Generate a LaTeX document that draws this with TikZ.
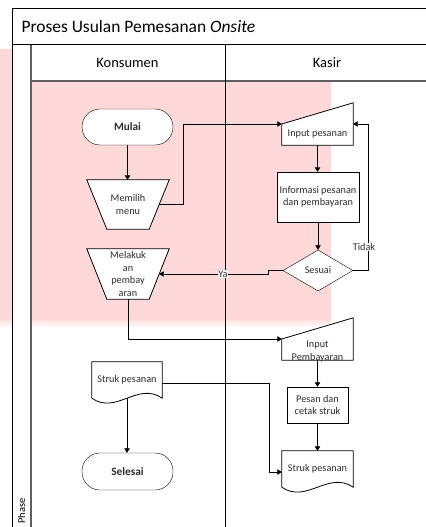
\documentclass[tikz,border=0pt]{standalone}
\usepackage{fontspec}
\setmainfont{Carlito}
\usetikzlibrary{arrows.meta,shapes.geometric,calc}
\pgfdeclarelayer{back}
\pgfdeclarelayer{shapes}
\pgfsetlayers{back,shapes,main}

\definecolor{wm}{RGB}{255,217,217}
\definecolor{lanegray}{RGB}{95,95,95}
\definecolor{ink}{RGB}{45,45,45}

\begin{document}
\begin{tikzpicture}[x=1bp,y=-1bp,
  line width=0.8bp,
  flow/.style={draw=black, line width=0.8bp, -{Triangle[width=5.5bp,length=4.5bp]}},
  txt/.style={font=\fontsize{10.3}{12.5}\selectfont, align=center, text=ink},
  term/.style={draw, fill=white, rounded corners=18bp, minimum width=91bp,
               minimum height=36bp, inner sep=0,
               font=\bfseries\fontsize{11.3}{13}\selectfont, text=ink},
  procbox/.style={draw, fill=white, txt, inner sep=1bp},
  frame/.style={inner sep=0, txt},
  outline/.style={draw=black, fill=white, line width=0.8bp},
  flag/.style={txt, fill=white, inner sep=0.6bp},
]
\useasboundingbox (0,0) rectangle (425,527);

% ---- background tint and swimlane frame ----
\begin{pgfonlayer}{back}
  \fill[wm] (0,49) rectangle (331,318);
  \shade[top color=wm, bottom color=white] (0,318) rectangle (331,328);
  \fill[white] (12,45) rectangle (31,528);
  \fill[white] (31,45) rectangle (426,81);
  \fill[white] (12,9) rectangle (426,45);
  \draw[black, line width=1bp] (426,9) -- (12,9) -- (12,528);
  \draw[black, line width=1bp] (12,45) -- (426,45);
  \draw[lanegray, line width=1.3bp] (31,45) -- (31,528);
  \draw[lanegray, line width=1.3bp] (31,81) -- (426,81);
  \draw[black, line width=1bp] (225,45) -- (225,528);
\end{pgfonlayer}

\node[anchor=base west, font=\fontsize{17.5}{20}\selectfont] (title) at (18,33)
  {Proses Usulan Pemesanan \textit{Onsite}};
\node[font=\fontsize{14.5}{16}\selectfont] (konsumen) at (127.5,63) {Konsumen};
\node[font=\fontsize{14.5}{16}\selectfont] (kasir) at (327,63) {Kasir};
\node[rotate=90, anchor=west, inner sep=0, font=\fontsize{10.5}{12}\selectfont] (phase)
  at (21.5,524) {Phase};

% ---- Konsumen lane ----
\node[term] (mulai) at (127.5,127) {Mulai};

\node[frame, minimum width=82bp, minimum height=49bp] (memilih) at (128,204.5)
  {Memilih\\menu};
\node[frame, minimum width=82bp, minimum height=50bp] (bayar) at (128,274)
  {Melakuk\\an\\pembay\\aran};

\node[frame, minimum width=70bp, minimum height=36bp] (struk1) at (127,380)
  {Struk pesanan};

\node[term, minimum height=37bp] (selesai) at (127.5,471.5) {Selesai};

% ---- Kasir lane ----
\node[frame, minimum width=71bp, minimum height=42bp] (inp) at (317.5,124) {};
\node[txt, inner sep=0] (inptxt) at ([yshift=-10bp]inp.center) {Input pesanan};

\node[procbox, minimum width=82bp, minimum height=50bp] (info) at (318,197)
  {Informasi pesanan\\dan pembayaran};

\node[draw, diamond, fill=white, aspect=1.7, minimum width=70bp, minimum height=41bp,
      inner sep=0, txt] (sesuai) at (318,270.5) {Sesuai};

\node[frame, minimum width=71bp, minimum height=42bp] (pbayar) at (317.5,339) {};
\node[txt, inner sep=0] (pbayartxt) at ([yshift=-12.5bp]pbayar.center) {Input\\Pembayaran};

\node[procbox, minimum width=61bp, minimum height=36bp] (cetak) at (317.5,405)
  {Pesan dan\\cetak struk};

\node[frame, minimum width=71bp, minimum height=36bp] (struk2) at (317.5,469)
  {Struk pesanan};

% ---- hand-drawn outlines (manual operation, manual input, document) ----
\begin{pgfonlayer}{shapes}
  \foreach \n in {memilih,bayar}{
    \draw[outline] (\n.north west) -- (\n.north east)
      -- ([xshift=-20bp]\n.south east) -- ([xshift=20bp]\n.south west) -- cycle;
  }
  \foreach \n in {inp,pbayar}{
    \draw[outline] (\n.west) -- (\n.north east) -- (\n.south east)
      -- (\n.south west) -- cycle;
  }
  \foreach \n/\w in {struk1/70,struk2/71}{
    \draw[outline] (\n.north west) -- (\n.north east) -- (\n.south east)
      .. controls ([xshift=-0.35*\w bp, yshift=17bp]\n.south east)
         and ([xshift=0.35*\w bp, yshift=-17bp]\n.south west) .. (\n.south west)
      -- cycle;
  }
\end{pgfonlayer}

% ---- connectors ----
\coordinate (memilihR) at ($(memilih.north east)!0.5!([xshift=-20bp]memilih.south east)$);
\coordinate (bayarR) at ($(bayar.north east)!0.5!([xshift=-20bp]bayar.south east)$);

\draw[flow] (mulai.south) -- (mulai.south |- memilih.north);
\draw[flow] (memilihR) -- ++(24,0) |- (inp.west);
\draw[flow] (inp.south) -- (inp.south |- info.north);
\draw[flow] (info.south) -- (sesuai.north);
\draw[flow] (sesuai.east) -- ++(15,0) |- (inp.east);
\node[flag] (tidak) at (364,247) {Tidak};
\draw[flow] (sesuai.west) -- ++(-14,0) |- (bayarR);
\node[flag] (ya) at (223,274) {Ya};
\draw[flow] (bayar.south) |- (pbayar.west);
\draw[flow] (pbayar.south) -- (pbayar.south |- cetak.north);
\draw[flow] (cetak.south) -- (cetak.south |- struk2.north);
\draw[flow] ([yshift=-3bp]struk1.east) -- ++(107,0) |- ([yshift=-3bp]struk2.west);
\draw[flow] (struk1.south) -- (struk1.south |- selesai.north);
\end{tikzpicture}
\end{document}
